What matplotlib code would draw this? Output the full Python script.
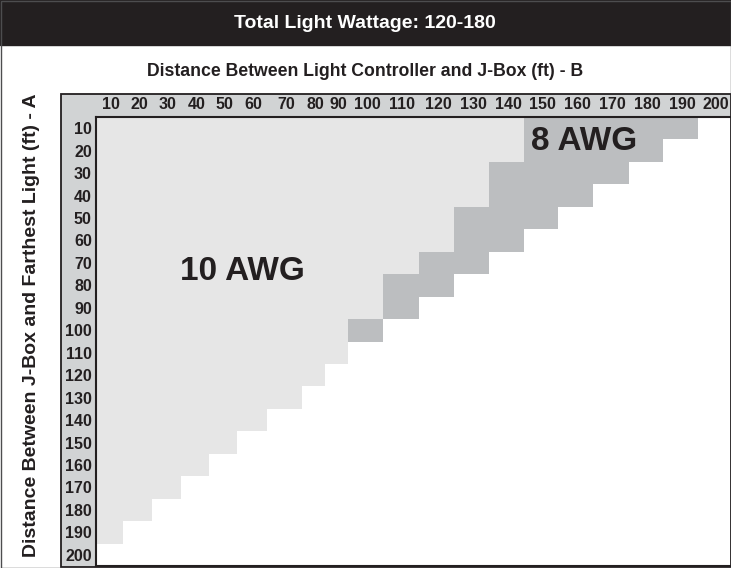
import numpy as np
import matplotlib.pyplot as plt
from matplotlib.colors import ListedColormap
from matplotlib.patches import Rectangle

plt.rcParams['font.family'] = ['Liberation Sans', 'DejaVu Sans']

# Distance between J-Box and farthest light (ft) - A, one per row
dist_a = [10, 20, 30, 40, 50, 60, 70, 80, 90, 100,
          110, 120, 130, 140, 150, 160, 170, 180, 190, 200]
# Distance between light controller and J-Box (ft) - B, one per column
dist_b = [10, 20, 30, 40, 50, 60, 70, 80, 90, 100,
          110, 120, 130, 140, 150, 160, 170, 180, 190, 200]
# Longest B run (ft) that 10 AWG covers for each A row (0 = none)
max_b_10awg = [140, 140, 130, 130, 120, 120, 110, 100, 100, 90,
               90, 80, 70, 60, 50, 40, 30, 20, 10, 0]
# Longest B run (ft) that 8 AWG covers for each A row (0 = none)
max_b_8awg = [190, 180, 170, 160, 150, 140, 130, 120, 110, 100,
              0, 0, 0, 0, 0, 0, 0, 0, 0, 0]

INK = '#231f20'
LIGHT = '#e6e6e6'
DARK = '#bcbec0'
BAND = '#d1d3d4'

W, H = 731, 568
# the printed table is not even: column widths in pixels
col_widths = [27, 29, 29, 28, 28, 30, 35, 23, 23, 35,
              36, 35, 35, 35, 34, 35, 36, 34, 35, 32]

# 0 = too far, 1 = 10 AWG, 2 = 8 AWG
b = np.array(dist_b)[None, :]
grid = np.where(b <= np.array(max_b_10awg)[:, None], 1,
                np.where(b <= np.array(max_b_8awg)[:, None], 2, 0))

fig = plt.figure(figsize=(W / 100, H / 100), dpi=100)

# background layer in pixel units: header, frame, grey label band
bg = fig.add_axes([0, 0, 1, 1])
bg.set_xlim(0, W)
bg.set_ylim(H, 0)
bg.axis('off')
bg.add_patch(Rectangle((0, 0), W, 45, color=INK))
bg.add_patch(Rectangle((60.5, 93.5), W - 61, 473, facecolor=BAND, edgecolor=INK, lw=1.3))
bg.add_patch(Rectangle((0.5, 0.5), W - 1, H - 1, fill=False, edgecolor='#4d4d4f', lw=1))

bg.text(W / 2 - 1, 23, 'Total Light Wattage: 120-180', color='white',
        fontsize=14, fontweight='bold', ha='center', va='center')
bg.text(W / 2, 72, 'Distance Between Light Controller and J-Box (ft) - B', color=INK,
        fontsize=12.7, fontweight='bold', ha='center', va='center')
bg.text(32, 325, 'Distance Between J-Box and Farthest Light (ft) - A', color=INK,
        fontsize=14, fontweight='bold', ha='center', va='center', rotation=90)

# the table itself
left, top, bottom = 96, 117, 566
ax = fig.add_axes([left / W, 1 - bottom / H, sum(col_widths) / W, (bottom - top) / H])
x_edges = np.concatenate([[0], np.cumsum(col_widths)])
y_edges = np.arange(len(dist_a) + 1)
ax.pcolormesh(x_edges, y_edges, grid, cmap=ListedColormap(['white', LIGHT, DARK]),
              vmin=-0.5, vmax=2.5, shading='flat', antialiased=False, linewidth=0)
ax.set_xlim(0, x_edges[-1])
ax.set_ylim(len(dist_a), 0)

ax.xaxis.tick_top()
ax.set_xticks((x_edges[:-1] + x_edges[1:]) / 2 + 1.5, [str(v) for v in dist_b])
ax.set_yticks(y_edges[:-1] + 0.5, [str(v) for v in dist_a])
ax.tick_params(axis='x', length=0, pad=3.5, labelsize=11.5, labelcolor=INK)
ax.tick_params(axis='y', length=0, pad=3, labelsize=11.5, labelcolor=INK)
for lbl in ax.get_xticklabels() + ax.get_yticklabels():
    lbl.set_fontweight('bold')

for side in ['top', 'left', 'bottom']:
    ax.spines[side].set_color(INK)
    ax.spines[side].set_linewidth(1.5)
ax.spines['right'].set_visible(False)

ax.text(242, 272, '10 AWG', transform=bg.transData, color=INK, fontsize=24,
        fontweight='bold', ha='center', va='center')
ax.text(584, 142, '8 AWG', transform=bg.transData, color=INK, fontsize=24,
        fontweight='bold', ha='center', va='center')

fig.savefig('out.png', dpi=100)
